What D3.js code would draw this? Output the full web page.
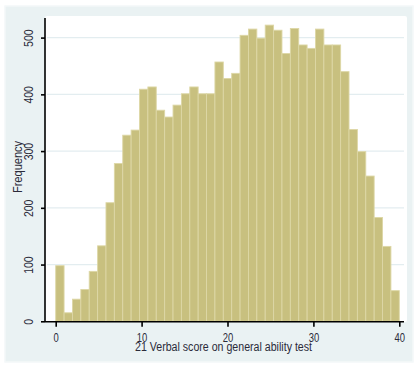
<!DOCTYPE html>
<html>
<head>
<meta charset="utf-8">
<script src="https://cdn.jsdelivr.net/npm/d3@7"></script>
<style>
  body { margin: 0; background: #fff; }
  svg text { font-family: "Liberation Sans", Arial, sans-serif; fill: #2b2b3a; }
</style>
</head>
<body>
<div id="chart"></div>
<script>
// frequencies of each of the 41 bins, score 0 .. 40
var counts = [98, 15, 39, 56, 88, 133, 209, 278, 328, 337,
              409, 413, 372, 360, 381, 401, 413, 401, 401, 457,
              428, 437, 504, 515, 499, 522, 513, 472, 516, 487,
              481, 515, 487, 487, 440, 338, 299, 256, 183, 132, 54];
var xTicks = [0, 10, 20, 30, 40];
var yTicks = [0, 100, 200, 300, 400, 500];
var xTitle = "21 Verbal score on general ability test";
var yTitle = "Frequency";

var svgWidth = 420, svgHeight = 376;
var scoreMin = 0, scoreMax = 40;
var binW = (scoreMax - scoreMin) / counts.length;

var svg = d3.select("#chart").append("svg")
  .attr("width", svgWidth)
  .attr("height", svgHeight);

// outer graph region
svg.append("rect")
  .attr("x", 5).attr("y", 6)
  .attr("width", 408).attr("height", 356)
  .attr("fill", "#eaf2f3")
  .attr("stroke", "#f4f8f9").attr("stroke-width", 1.5);

// plot region
svg.append("rect")
  .attr("x", 45).attr("y", 16)
  .attr("width", 362).attr("height", 306)
  .attr("rx", 2)
  .attr("fill", "#ffffff");

var x = d3.scaleLinear().domain([scoreMin, scoreMax]).range([55.7, 399.3]);
var y = d3.scaleLinear().domain([0, 500]).range([321.3, 37.6]);

// grid lines
svg.append("g").selectAll("line")
  .data(yTicks.slice(1))
  .enter().append("line")
  .attr("x1", 47).attr("x2", 404)
  .attr("y1", function(d) { return y(d); })
  .attr("y2", function(d) { return y(d); })
  .attr("stroke", "#e3edf0").attr("stroke-width", 1.2);

// bars
svg.append("g").selectAll("rect")
  .data(counts)
  .enter().append("rect")
  .attr("x", function(d, i) { return x(scoreMin + i * binW); })
  .attr("width", function(d, i) { return x(scoreMin + (i + 1) * binW) - x(scoreMin + i * binW); })
  .attr("y", function(d) { return y(d); })
  .attr("height", function(d) { return y(0) - y(d); })
  .attr("fill", "#c8c07f")
  .attr("stroke", "#ddd7a6")
  .attr("stroke-width", 0.9);

// x axis
var xAxis = svg.append("g")
  .attr("transform", "translate(0," + 321.8 + ")")
  .call(d3.axisBottom(x).tickValues(xTicks).tickSize(5).tickSizeOuter(0).tickFormat(d3.format("d")));
xAxis.select(".domain").attr("d", "M45,0H404").attr("stroke", "#000").attr("stroke-width", 1.6);
xAxis.selectAll(".tick line").attr("stroke", "#000").attr("stroke-width", 1.6);
xAxis.selectAll(".tick text")
  .attr("y", 0).attr("dy", 0)
  .attr("transform", "translate(0,20) scale(0.7,1)")
  .style("font-size", "13.5px");

// y axis
var yAxis = svg.append("g")
  .attr("transform", "translate(45,0)")
  .call(d3.axisLeft(y).tickValues(yTicks).tickSize(4).tickSizeOuter(0));
yAxis.select(".domain").attr("d", "M0,18V322").attr("stroke", "#000").attr("stroke-width", 1.6);
yAxis.selectAll(".tick text")
  .attr("x", 0).attr("dy", 0)
  .attr("text-anchor", "middle")
  .attr("transform", "translate(-12.5,0) rotate(-90) scale(0.78,1)")
  .style("font-size", "13.5px");
yAxis.selectAll(".tick line").attr("stroke", "#000").attr("stroke-width", 1.6);

// axis titles
svg.append("text")
  .attr("x", 223.5).attr("y", 350.5)
  .attr("text-anchor", "middle")
  .style("font-size", "12px")
  .attr("textLength", 177)
  .attr("lengthAdjust", "spacingAndGlyphs")
  .text(xTitle);

svg.append("text")
  .attr("transform", "translate(22,167) rotate(-90) scale(0.85,1)")
  .attr("text-anchor", "middle")
  .style("font-size", "13px")
  .text(yTitle);
</script>
</body>
</html>
